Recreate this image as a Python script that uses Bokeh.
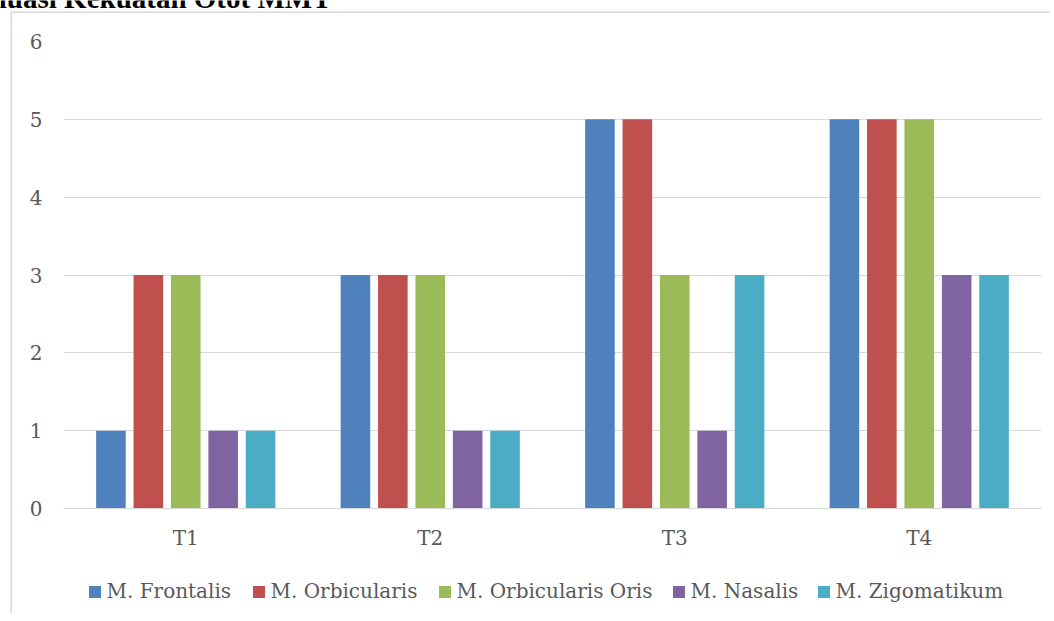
from bokeh.plotting import figure
from bokeh.layouts import column, row
from bokeh.models import (FactorRange, Range1d, Legend, LegendItem, Label,
                          BoxAnnotation, FixedTicker)
from bokeh.transform import dodge
from bokeh.embed import file_html
from bokeh.resources import INLINE

# ---- data ----
categories = ["T1", "T2", "T3", "T4"]
series_names = ["M. Frontalis", "M. Orbicularis", "M. Orbicularis Oris",
                "M. Nasalis", "M. Zigomatikum"]
frontalis = [1, 3, 5, 5]
orbicularis = [3, 3, 5, 5]
orbicularis_oris = [3, 3, 3, 5]
nasalis = [1, 1, 1, 3]
zigomatikum = [1, 1, 3, 3]
y_ticks = [0, 1, 2, 3, 4, 5, 6]
title_text = "Evaluasi Kekuatan Otot MMT"

series_values = [frontalis, orbicularis, orbicularis_oris, nasalis, zigomatikum]
colors = ["#4F81BD", "#C0504D", "#9BBB59", "#8064A2", "#4BACC6"]

FONT = "DejaVu Serif"
GRAY = "#595959"
GRID = "#d9d9d9"


def blank(w, h, yr=(0, 1)):
    f = figure(width=w, height=h, x_range=Range1d(0, 1), y_range=Range1d(*yr),
               x_axis_type=None, y_axis_type=None, output_backend="svg",
               toolbar_location=None, min_border=0, title=None)
    f.outline_line_color = None
    f.background_fill_color = "white"
    f.border_fill_color = "white"
    f.xgrid.visible = False
    f.ygrid.visible = False
    return f


def box(f, l, r, t, b):
    f.add_layout(BoxAnnotation(left=l, right=r, top=t, bottom=b,
                               left_units="canvas", right_units="canvas",
                               top_units="canvas", bottom_units="canvas",
                               fill_color=GRID, fill_alpha=1, line_color=None,
                               line_alpha=0))


# ---- top strip: cut-off title and chart border ----
top = blank(1050, 25)
box(top, 10, 1050, 11, 12.5)
box(top, 10, 11.5, 11, 25)
top.add_layout(Label(x=331, y=-3, x_units="canvas", y_units="canvas", text=title_text,
                     text_align="right", text_baseline="alphabetic",
                     text_font="Liberation Serif", text_font_style="bold",
                     text_font_size="29px", text_color="black"))

# ---- left strip: chart border ----
left = blank(12, 588)
box(left, 10, 11.5, 0, 588)

# ---- main chart ----
MW, MH = 1038, 535
p = figure(width=MW, height=MH, x_range=FactorRange(*categories, range_padding=0),
           y_range=Range1d(0, 6), output_backend="svg", toolbar_location=None,
           min_border_left=51, min_border_right=9, min_border_top=16,
           min_border_bottom=52, title=None)
p.outline_line_color = None
p.background_fill_color = "white"
p.border_fill_color = "white"

offsets = [-0.306, -0.153, 0.0, 0.153, 0.306]
data = {"cat": categories}
for i, vals in enumerate(series_values):
    data[f"s{i}"] = vals

for i in range(5):
    p.vbar(x=dodge("cat", offsets[i], range=p.x_range), top=f"s{i}",
           width=0.121, source=data, fill_color=colors[i], line_color=None)

p.xgrid.grid_line_color = None
p.ygrid.grid_line_color = GRID
p.ygrid.grid_line_width = 1
p.yaxis.ticker = FixedTicker(ticks=y_ticks)
p.yaxis.axis_line_color = None
p.yaxis.major_tick_line_color = None
p.yaxis.minor_tick_line_color = None
p.yaxis.major_tick_out = 0
p.yaxis.major_label_standoff = 21
p.xaxis.axis_line_color = GRID
p.xaxis.axis_line_width = 1
p.xaxis.major_tick_line_color = None
p.xaxis.major_tick_out = 0
p.xaxis.major_label_standoff = 17
for ax in (p.xaxis, p.yaxis):
    ax.major_label_text_font = FONT
    ax.major_label_text_font_size = "20px"
    ax.major_label_text_color = GRAY

# ---- legend strip (proxy glyphs lie below the visible range) ----
leg = blank(1038, 53, yr=(100, 101))
legend_x = [23.5, 187.5, 373.5, 607.5, 752.5]
for i in range(5):
    r = leg.vbar(x=[0.5], top=[series_values[i][0]], width=0.01,
                 fill_color=colors[i], line_color=None)
    lg = Legend(items=[LegendItem(label=series_names[i], renderers=[r])],
                location=(legend_x[i], 10), orientation="horizontal",
                glyph_width=15, glyph_height=15, label_standoff=5,
                padding=0, margin=0, border_line_color=None,
                background_fill_alpha=0,
                label_text_font=FONT, label_text_font_size="20px",
                label_text_color=GRAY)
    leg.add_layout(lg, "center")

layout = column(top, row(left, column(p, leg, spacing=0), spacing=0), spacing=0)

open("out.html", "w").write(file_html(layout, INLINE))
